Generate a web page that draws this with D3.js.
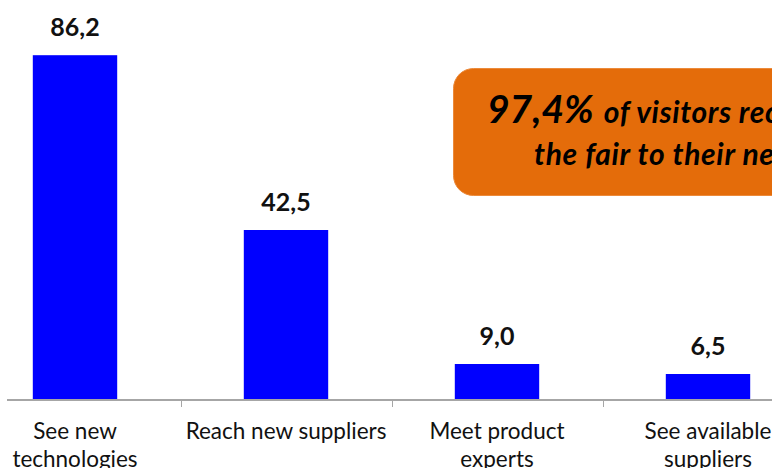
<!DOCTYPE html>
<html>
<head>
<meta charset="utf-8">
<script src="https://cdn.jsdelivr.net/npm/d3@7"></script>
<style>
  body { margin: 0; background: #fff; }
  svg { display: block; font-family: Lato, "Open Sans", sans-serif; }
</style>
</head>
<body>
<div class="chart"></div>
<script>
// data
var categories = ["See new technologies", "Reach new suppliers", "Meet product experts", "See available suppliers"];
var labelLines = [["See new", "technologies"], ["Reach new suppliers"], ["Meet product", "experts"], ["See available", "suppliers"]];
var values = [86.2, 42.5, 9.0, 6.5];
var calloutBig = "97,4%";
var calloutLine1 = "of visitors recommend";
var calloutLine2 = "the fair to their network";

var w = 772, h = 468;
var baseY = 400;

var svg = d3.select(".chart")
  .append("svg")
  .attr("width", w)
  .attr("height", h);

var x = d3.scaleBand()
  .domain(categories)
  .range([-30.5, 813.5])
  .paddingInner(0.6)
  .paddingOuter(0.3);

var y = d3.scaleLinear()
  .domain([0, 100])
  .range([baseY, 0]);

// callout box (runs off the right edge)
svg.append("rect")
  .attr("x", 453.5)
  .attr("y", 68.5)
  .attr("width", 400)
  .attr("height", 127)
  .attr("rx", 20)
  .attr("fill", "#E46C0A")
  .attr("stroke", "#EC8A3A")
  .attr("stroke-width", 1);

var t1 = svg.append("text")
  .attr("x", 487)
  .attr("y", 123)
  .attr("fill", "#000")
  .attr("font-weight", "bold")
  .attr("font-style", "italic");
t1.append("tspan").attr("font-size", 39).text(calloutBig);
t1.append("tspan").attr("font-size", 30).attr("dx", 10)
  .attr("letter-spacing", 0.6).text(calloutLine1);

svg.append("text")
  .attr("x", 534)
  .attr("y", 165)
  .attr("fill", "#000")
  .attr("font-weight", "bold")
  .attr("font-style", "italic")
  .attr("font-size", 30)
  .attr("letter-spacing", 0.7)
  .text(calloutLine2);

// bars
svg.selectAll("rect.bar")
  .data(values)
  .enter()
  .append("rect")
  .attr("class", "bar")
  .attr("x", function(d, i) { return x(categories[i]); })
  .attr("y", function(d) { return y(d); })
  .attr("width", x.bandwidth())
  .attr("height", function(d) { return baseY - y(d); })
  .attr("fill", "#0000FF");

// value labels
svg.selectAll("text.val")
  .data(values)
  .enter()
  .append("text")
  .attr("class", "val")
  .attr("x", function(d, i) { return x(categories[i]) + x.bandwidth() / 2; })
  .attr("y", function(d) { return y(d) - 19; })
  .attr("text-anchor", "middle")
  .attr("font-size", 25)
  .attr("font-weight", "bold")
  .attr("fill", "#111")
  .text(function(d) { return d.toFixed(1).replace(".", ","); });

// axis line and ticks between categories
svg.append("line")
  .attr("x1", 7).attr("x2", w)
  .attr("y1", baseY).attr("y2", baseY)
  .attr("stroke", "#A6A6A6")
  .attr("stroke-width", 2);

var step = x.step();
svg.selectAll("line.tick")
  .data(categories.slice(0, 3))
  .enter()
  .append("line")
  .attr("class", "tick")
  .attr("x1", function(d) { return Math.round(x(d) + x.bandwidth() + step * 0.3) + 0.5; })
  .attr("x2", function(d) { return Math.round(x(d) + x.bandwidth() + step * 0.3) + 0.5; })
  .attr("y1", baseY)
  .attr("y2", baseY + 7)
  .attr("stroke", "#A6A6A6")
  .attr("stroke-width", 1);

// category labels
var cat = svg.selectAll("text.cat")
  .data(categories)
  .enter()
  .append("text")
  .attr("class", "cat")
  .attr("text-anchor", "middle")
  .attr("font-size", 22.5)
  .attr("fill", "#111")
  .attr("x", function(d) { return x(d) + x.bandwidth() / 2; })
  .attr("y", 439);

cat.selectAll("tspan")
  .data(function(d, i) { return labelLines[i]; })
  .enter()
  .append("tspan")
  .attr("x", function() { var p = this.parentNode; return p.getAttribute("x"); })
  .attr("dy", function(d, i) { return i === 0 ? 0 : 28; })
  .text(function(d) { return d; });
</script>
</body>
</html>
